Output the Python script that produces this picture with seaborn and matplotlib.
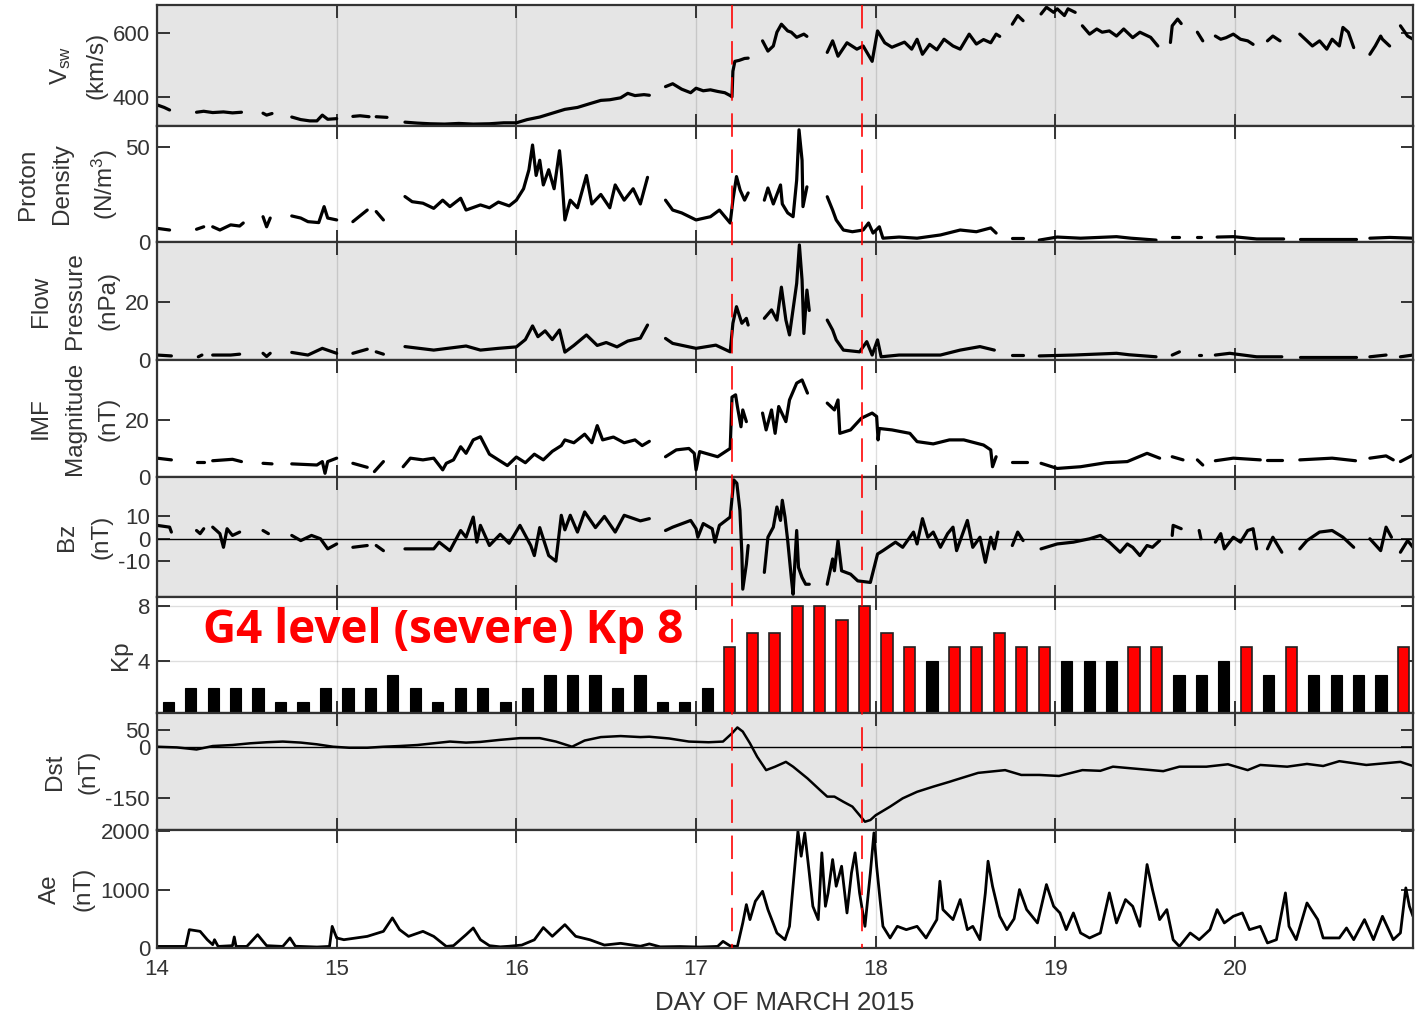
import numpy as np
import pandas as pd
import seaborn as sns
import matplotlib
matplotlib.use("Agg")
import matplotlib.pyplot as plt
from matplotlib.lines import Line2D
from matplotlib.transforms import blended_transform_factory

nan = np.nan

# ---------------- solar wind speed (km/s) ----------------
vsw_t = [14.00, 14.04, 14.07, nan, 14.22, 14.26, 14.31, 14.37, 14.42, 14.47, nan,
         14.59, 14.61, 14.64, nan, 14.75, 14.80, 14.85, 14.89, 14.92, 14.95, 15.00, nan,
         15.09, 15.13, 15.18, nan, 15.22, 15.28, nan,
         15.38, 15.45, 15.52, 15.60, 15.68, 15.76, 15.85, 15.93, 16.00, 16.06, 16.13,
         16.20, 16.27, 16.34, 16.41, 16.47, 16.52, 16.58, 16.62, 16.66, 16.71, 16.74, nan,
         16.83, 16.87, 16.92, 16.97, 17.00, 17.04, 17.08, 17.12, 17.16, 17.19, 17.20,
         17.205, 17.216, 17.24, 17.27, 17.29, nan,
         17.37, 17.40, 17.43, 17.45, 17.475, 17.51, 17.53, 17.56, 17.60, 17.617, nan,
         17.73, 17.76, 17.79, 17.84, 17.895, 17.93, 17.98, 18.01, 18.05, 18.09, 18.16,
         18.20, 18.23, 18.26, 18.30, 18.34, 18.38, 18.43, 18.47, 18.52, 18.56, 18.60,
         18.64, 18.67, 18.69, nan,
         18.76, 18.79, 18.82, nan,
         18.92, 18.95, 18.99, 19.01, 19.05, 19.07, 19.11, nan,
         19.15, 19.19, 19.23, 19.26, 19.30, 19.34, 19.38, 19.43, 19.47, 19.53, 19.57, nan,
         19.64, 19.65, 19.68, 19.70, nan,
         19.79, 19.82, nan,
         19.89, 19.92, 19.95, 19.99, 20.03, 20.07, 20.10, nan,
         20.18, 20.21, 20.25, nan,
         20.36, 20.40, 20.43, 20.47, 20.51, 20.54, 20.58, 20.60, 20.63, 20.66, nan,
         20.75, 20.78, 20.81, 20.82, 20.86, nan,
         20.92, 20.96, 20.99]
vsw_v = [376, 368, 360, nan, 353, 356, 352, 354, 351, 353, nan,
         350, 344, 349, nan, 338, 330, 326, 326, 344, 331, 333, nan,
         340, 342, 339, nan, 339, 337, nan,
         322, 319, 317, 316, 318, 316, 317, 320, 320, 330, 338,
         350, 362, 368, 380, 390, 392, 398, 412, 405, 408, 406, nan,
         433, 442, 425, 414, 428, 420, 423, 418, 414, 405, 401,
         481, 512, 515, 521, 522, nan,
         576, 544, 560, 603, 628, 607, 603, 587, 597, 590, nan,
         540, 576, 528, 570, 550, 560, 512, 607, 570, 556, 572,
         550, 581, 534, 565, 548, 581, 560, 550, 597, 566, 580,
         570, 597, 590, nan,
         628, 655, 639, nan,
         660, 681, 665, 676, 655, 676, 665, nan,
         623, 597, 613, 603, 607, 591, 613, 586, 603, 587, 560, nan,
         571, 623, 644, 630, nan,
         603, 576, nan,
         591, 581, 586, 597, 581, 576, 565, nan,
         576, 591, 576, nan,
         597, 576, 560, 576, 550, 581, 560, 618, 603, 555, nan,
         534, 560, 591, 581, 560, nan,
         623, 591, 581]

# ---------------- proton density (N/cm^3) ----------------
den_t = [14.00, 14.07, nan, 14.22, 14.26, nan, 14.31, 14.35, 14.41, 14.46, 14.48, nan,
         14.59, 14.61, 14.63, nan, 14.75, 14.80, 14.84, 14.90, 14.93, 14.95, 15.00, nan,
         15.09, 15.17, nan, 15.22, 15.26, nan,
         15.38, 15.42, 15.48, 15.54, 15.59, 15.63, 15.69, 15.72, 15.80, 15.85, 15.90, 15.96,
         16.00, 16.04, 16.07, 16.09, 16.11, 16.13, 16.15, 16.18, 16.21, 16.24, 16.25, 16.27,
         16.30, 16.34, 16.39, 16.42, 16.47, 16.52, 16.55, 16.60, 16.65, 16.69, 16.71, 16.73, nan,
         16.83, 16.87, 16.92, 17.00, 17.08, 17.13, 17.19, 17.205, 17.225, 17.245, 17.27, 17.29, nan,
         17.38, 17.40, 17.43, 17.47, 17.48, 17.51, 17.54, 17.56, 17.573, 17.59, 17.595, 17.617, nan,
         17.73, 17.76, 17.78, 17.82, 17.87, 17.93, 17.96, 17.985, 18.02, 18.04, 18.13, 18.23,
         18.36, 18.47, 18.56, 18.64, 18.67, nan,
         18.76, 18.82, nan, 18.91, 19.01, 19.14, 19.34, 19.42, 19.56, nan,
         19.65, 19.69, nan, 19.79, 19.81, nan, 19.90, 19.99, 20.12, 20.27, nan,
         20.36, 20.67, nan, 20.75, 20.86, 20.99]
den_v = [7.2, 6.3, nan, 6.7, 8.0, nan, 8.0, 6.3, 9.0, 8.4, 10.0, nan,
         13.3, 8.0, 12.6, nan, 13.7, 12.6, 10.7, 10.2, 18.6, 12.6, 11.6, nan,
         10.7, 16.8, nan, 16.0, 11.6, nan,
         23.9, 21.2, 20.4, 17.7, 22.0, 18.6, 23.0, 16.8, 19.5, 18.0, 21.0, 19.0,
         22.0, 28.0, 38.0, 51.0, 35.0, 43.0, 30.0, 38.0, 28.0, 48.0, 38.0, 11.6,
         22.0, 18.0, 35.0, 20.0, 25.0, 18.0, 30.0, 22.0, 28.0, 20.0, 27.0, 34.0, nan,
         22.0, 16.8, 15.3, 11.6, 13.3, 16.8, 10.0, 22.0, 34.4, 27.4, 22.0, 25.8, nan,
         22.0, 28.4, 20.0, 30.0, 20.0, 15.3, 13.3, 32.6, 59.0, 43.0, 18.6, 29.0, nan,
         23.8, 16.8, 11.6, 6.3, 5.4, 6.3, 10.0, 4.7, 8.0, 2.0, 2.6, 2.0,
         3.7, 6.3, 5.4, 7.4, 4.7, nan,
         2.0, 2.0, nan, 1.0, 2.6, 2.0, 2.8, 2.0, 1.0, nan,
         2.6, 2.6, nan, 2.5, 2.5, nan, 2.6, 2.8, 1.6, 1.6, nan,
         1.6, 1.6, nan, 2.0, 2.4, 2.0]

# ---------------- flow pressure (nPa) ----------------
pf_t = [14.00, 14.08, nan, 14.23, 14.25, nan, 14.31, 14.41, 14.46, nan,
        14.59, 14.61, 14.63, nan, 14.75, 14.84, 14.92, 15.00, nan,
        15.09, 15.17, nan, 15.22, 15.26, nan,
        15.38, 15.54, 15.72, 15.80, 15.90, 16.00, 16.05, 16.09, 16.12, 16.16, 16.20, 16.24,
        16.27, 16.32, 16.39, 16.45, 16.50, 16.56, 16.62, 16.69, 16.73, nan,
        16.83, 16.87, 17.00, 17.11, 17.19, 17.205, 17.225, 17.255, 17.28, 17.29, nan,
        17.38, 17.42, 17.45, 17.475, 17.50, 17.52, 17.56, 17.575, 17.59, 17.60, 17.617, 17.63, nan,
        17.73, 17.76, 17.78, 17.82, 17.91, 17.95, 17.98, 18.01, 18.03, 18.13, 18.23, 18.36,
        18.47, 18.58, 18.66, nan,
        18.76, 18.82, nan, 18.91, 19.10, 19.34, 19.41, 19.56, nan,
        19.65, 19.69, nan, 19.80, 19.81, nan, 19.89, 19.97, 20.12, 20.26, nan,
        20.36, 20.67, nan, 20.75, 20.84, nan, 20.92, 20.99]
pf_v = [1.7, 1.4, nan, 1.1, 1.7, nan, 1.7, 1.7, 2.0, nan,
        2.3, 1.2, 2.3, nan, 2.6, 1.7, 4.0, 2.3, nan,
        2.3, 3.7, nan, 2.8, 2.0, nan,
        4.6, 3.4, 4.8, 3.4, 4.0, 4.5, 7.0, 11.7, 8.0, 10.0, 7.0, 10.3,
        2.7, 5.0, 8.6, 5.0, 6.0, 4.5, 6.5, 7.5, 12.0, nan,
        7.4, 5.7, 4.0, 5.1, 2.8, 12.6, 18.3, 12.6, 14.3, 12.0, nan,
        14.3, 17.2, 13.7, 25.0, 13.7, 8.6, 26.3, 39.5, 27.4, 9.1, 24.0, 17.0, nan,
        13.7, 10.3, 6.9, 3.4, 2.8, 6.3, 1.7, 6.9, 1.1, 1.7, 1.7, 1.7,
        3.4, 4.6, 3.4, nan,
        1.7, 1.7, nan, 1.4, 1.7, 2.3, 1.8, 1.1, nan,
        1.7, 2.8, nan, 1.7, 1.7, nan, 1.7, 2.3, 1.1, 1.1, nan,
        1.1, 1.1, nan, 1.1, 1.7, nan, 1.1, 1.7]

# ---------------- IMF magnitude (nT) ----------------
imf_t = [14.00, 14.08, nan, 14.22, 14.26, nan, 14.31, 14.42, 14.47, nan,
         14.59, 14.64, nan, 14.75, 14.89, 14.92, 14.935, 14.95, 15.00, nan,
         15.09, 15.17, nan, 15.21, 15.26, nan,
         15.37, 15.41, 15.48, 15.54, 15.59, 15.61, 15.65, 15.69, 15.72, 15.76, 15.80, 15.85,
         15.90, 15.95, 16.00, 16.05, 16.10, 16.15, 16.20, 16.25, 16.27, 16.32, 16.38, 16.42,
         16.45, 16.48, 16.54, 16.60, 16.66, 16.70, 16.74, nan,
         16.83, 16.89, 16.96, 16.99, 17.00, 17.02, 17.12, 17.19, 17.20, 17.22, 17.23, 17.25,
         17.26, 17.28, nan,
         17.37, 17.39, 17.42, 17.44, 17.46, 17.50, 17.52, 17.56, 17.59, 17.62, nan,
         17.73, 17.77, 17.79, 17.80, 17.86, 17.92, 17.98, 18.005, 18.013, 18.02, 18.09, 18.19,
         18.23, 18.32, 18.41, 18.49, 18.60, 18.64, 18.65, 18.67, nan,
         18.76, 18.84, nan, 18.92, 19.01, 19.14, 19.28, 19.40, 19.51, 19.58, nan,
         19.65, 19.71, nan, 19.79, 19.82, nan, 19.89, 19.99, 20.14, nan,
         20.18, 20.26, nan, 20.36, 20.54, 20.67, nan, 20.75, 20.84, 20.88, nan, 20.92, 20.99]
imf_v = [6.6, 6.0, nan, 5.4, 5.4, nan, 5.7, 6.2, 5.4, nan,
         4.8, 4.6, nan, 4.6, 4.2, 5.4, 1.3, 5.4, 6.6, nan,
         4.8, 3.4, nan, 1.9, 5.4, nan,
         3.6, 6.6, 6.0, 6.6, 2.5, 4.8, 6.0, 10.6, 8.3, 13.0, 14.1, 8.0,
         6.0, 4.0, 7.0, 5.0, 8.0, 6.0, 9.0, 11.0, 13.0, 12.0, 15.0, 12.0,
         18.0, 13.0, 14.0, 12.0, 13.0, 11.0, 12.5, nan,
         7.1, 9.5, 10.0, 8.3, 2.5, 8.9, 7.1, 10.0, 28.0, 28.8, 24.7, 17.6,
         23.5, 19.4, nan,
         22.4, 16.5, 23.5, 15.3, 24.7, 19.4, 27.0, 32.9, 34.0, 29.4, nan,
         25.9, 23.5, 27.0, 15.3, 16.5, 20.6, 22.4, 21.2, 13.0, 17.0, 16.5, 15.3,
         12.4, 11.6, 13.0, 13.0, 11.2, 9.5, 3.6, 7.1, nan,
         5.4, 5.4, nan, 4.8, 3.0, 3.6, 5.0, 5.4, 8.3, 6.6, nan,
         7.1, 6.0, nan, 6.0, 4.2, nan, 5.7, 6.6, 6.0, nan,
         6.0, 6.0, nan, 6.0, 6.6, 5.7, nan, 6.6, 7.4, 6.0, nan, 5.4, 7.7]

# ---------------- IMF Bz (nT) ----------------
bz_t = [14.00, 14.07, 14.08, nan, 14.22, 14.24, 14.26, nan,
        14.31, 14.35, 14.37, 14.39, 14.42, 14.46, nan, 14.59, 14.62, nan,
        14.75, 14.80, 14.86, 14.91, 14.95, 15.00, nan, 15.09, 15.17, nan, 15.22, 15.26, nan,
        15.38, 15.54, 15.57, 15.63, 15.69, 15.72, 15.76, 15.78, 15.80, 15.85, 15.91, 15.96,
        16.02, 16.08, 16.10, 16.13, 16.18, 16.22, 16.25, 16.27, 16.30, 16.34, 16.38, 16.44,
        16.49, 16.55, 16.60, 16.69, 16.74, nan,
        16.83, 16.87, 16.97, 17.00, 17.01, 17.04, 17.09, 17.105, 17.13, 17.19, 17.21, 17.227,
        17.244, 17.255, 17.26, 17.28, 17.29, nan,
        17.38, 17.40, 17.43, 17.45, 17.47, 17.48, 17.495, 17.51, 17.53, 17.54, 17.56, 17.57,
        17.59, 17.61, 17.63, nan,
        17.73, 17.76, 17.77, 17.79, 17.81, 17.86, 17.90, 17.97, 18.01, 18.04, 18.11, 18.15,
        18.21, 18.23, 18.26, 18.29, 18.32, 18.36, 18.40, 18.43, 18.45, 18.49, 18.51, 18.54,
        18.58, 18.61, 18.64, 18.66, 18.68, nan,
        18.76, 18.79, 18.82, nan,
        18.92, 19.01, 19.10, 19.19, 19.25, 19.30, 19.36, 19.40, 19.43, 19.47, 19.51, 19.54, 19.58, nan,
        19.65, 19.655, 19.70, nan, 19.80, 19.81, nan,
        19.89, 19.92, 19.94, 19.99, 20.03, 20.07, 20.10, 20.12, nan,
        20.18, 20.21, 20.26, nan,
        20.36, 20.40, 20.47, 20.54, 20.60, 20.66, nan,
        20.75, 20.81, 20.84, 20.87, nan, 20.92, 20.96, 20.99]
bz_v = [6.0, 5.2, 3.0, nan, 3.7, 2.3, 4.5, nan,
        5.2, 2.3, -3.8, 4.5, 1.5, 3.0, nan, 3.7, 2.3, nan,
        1.5, -0.8, 1.5, 0.0, -4.5, -2.3, nan, -3.8, -3.0, nan, -3.0, -5.3, nan,
        -4.5, -4.5, -1.5, -5.3, 3.7, 0.7, 9.7, -1.5, 6.0, -3.0, 2.0, -2.0,
        6.0, -3.0, -7.5, 5.0, -7.5, -10.0, 10.5, 4.0, 10.5, 3.0, 12.0, 5.0,
        10.0, 3.0, 10.5, 8.0, 9.0, nan,
        3.7, 5.2, 8.2, 4.5, 0.7, 6.8, 4.5, -1.5, 6.0, 9.7, 26.3, 24.8,
        12.7, -6.8, -22.5, -11.3, -3.0, nan,
        -15.0, 0.7, 5.2, 14.2, 8.2, 17.2, 9.7, -0.8, -17.3, -24.8, 3.7, -12.8,
        -17.3, -20.3, -20.3, nan,
        -20.3, -9.0, -14.3, -0.8, -14.3, -15.8, -18.8, -19.5, -6.8, -5.3, -1.5, -3.8,
        3.0, -2.3, 9.0, 0.7, 3.0, -3.8, 2.3, 5.2, -5.3, 3.7, 8.2, -3.8,
        0.7, -10.5, 0.7, -4.5, 3.0, nan,
        -3.0, 3.0, -0.8, nan,
        -4.5, -2.3, -1.5, 0.0, 1.5, -1.5, -6.0, -2.3, -3.8, -7.5, -3.0, -3.8, -0.8, nan,
        1.5, 6.0, 4.5, nan, 3.7, 0.0, nan,
        -1.5, 2.3, -4.5, 0.7, -1.5, 3.7, 4.5, -4.5, nan,
        -4.5, 0.7, -6.0, nan,
        -4.5, -0.8, 3.0, 3.7, 0.7, -3.8, nan,
        0.0, -5.3, 5.2, 0.7, nan, -6.0, -0.8, -3.8]

# ---------------- Kp index, 3-hour intervals from 14 March 00 UT ----------------
kp_days = [14, 15, 16, 17, 18, 19, 20]
kp_vals = [1, 2, 2, 2, 2, 1, 1, 2,
           2, 2, 3, 2, 1, 2, 2, 1,
           2, 3, 3, 3, 2, 3, 1, 1,
           2, 5, 6, 6, 8, 8, 7, 8,
           6, 5, 4, 5, 5, 6, 5, 5,
           4, 4, 4, 5, 5, 3, 3, 4,
           5, 3, 5, 3, 3, 3, 3, 5]

# ---------------- Dst (nT) ----------------
dst_t = [14.00, 14.11, 14.22, 14.31, 14.42, 14.52, 14.61, 14.70, 14.80, 14.89, 14.98,
         15.07, 15.17, 15.26, 15.35, 15.45, 15.54, 15.63, 15.72, 15.80, 15.91, 16.02,
         16.13, 16.22, 16.31, 16.38, 16.47, 16.58, 16.69, 16.74, 16.85, 16.96, 17.07,
         17.15, 17.20, 17.23, 17.26, 17.30, 17.34, 17.39, 17.44, 17.50, 17.54, 17.62,
         17.69, 17.73, 17.77, 17.82, 17.87, 17.91, 17.94, 17.97, 18.00, 18.08, 18.15,
         18.23, 18.32, 18.41, 18.44, 18.57, 18.72, 18.81, 18.91, 19.02, 19.15, 19.25,
         19.32, 19.47, 19.60, 19.69, 19.84, 19.96, 20.07, 20.14, 20.29, 20.40, 20.49,
         20.58, 20.73, 20.92, 20.99]
dst_v = [0, -2, -8, 2, 5, 10, 13, 15, 12, 7, 0,
         -3, -3, 0, 2, 5, 10, 15, 12, 14, 20, 25,
         25, 15, 0, 18, 28, 31, 28, 29, 24, 15, 13,
         15, 39, 56, 44, 10, -29, -68, -58, -44, -58, -92,
         -126, -145, -145, -160, -174, -199, -218, -213, -199, -174, -150,
         -131, -116, -102, -97, -76, -68, -82, -82, -85, -68, -70,
         -58, -65, -71, -58, -58, -51, -68, -53, -58, -50, -56,
         -42, -53, -44, -56]

# ---------------- AE (nT) ----------------
ae_t = [14.00, 14.16, 14.18, 14.24, 14.28, 14.31, 14.32, 14.34, 14.42, 14.43, 14.44,
        14.50, 14.56, 14.61, 14.70, 14.74, 14.77, 14.89, 14.96, 14.975, 15.00, 15.04,
        15.17, 15.26, 15.31, 15.35, 15.40, 15.48, 15.54, 15.61, 15.65, 15.72, 15.76,
        15.80, 15.85, 15.91, 15.96, 16.03, 16.10, 16.15, 16.20, 16.27, 16.33, 16.41,
        16.49, 16.58, 16.69, 16.74, 16.80, 16.91, 17.02, 17.12, 17.15, 17.19, 17.23,
        17.26, 17.28, 17.30, 17.33, 17.37, 17.40, 17.45, 17.495, 17.52, 17.55, 17.567,
        17.585, 17.605, 17.63, 17.65, 17.68, 17.70, 17.72, 17.735, 17.76, 17.78, 17.81,
        17.84, 17.865, 17.885, 17.91, 17.94, 17.97, 17.99, 18.005, 18.024, 18.04, 18.08,
        18.12, 18.17, 18.23, 18.28, 18.34, 18.357, 18.374, 18.43, 18.47, 18.51, 18.54,
        18.58, 18.61, 18.625, 18.65, 18.69, 18.73, 18.77, 18.80, 18.84, 18.90, 18.95,
        18.99, 19.025, 19.06, 19.10, 19.14, 19.19, 19.25, 19.30, 19.34, 19.39, 19.43,
        19.47, 19.51, 19.54, 19.58, 19.62, 19.655, 19.69, 19.75, 19.80, 19.86, 19.90,
        19.94, 19.99, 20.04, 20.08, 20.14, 20.18, 20.23, 20.28, 20.30, 20.34, 20.40,
        20.46, 20.49, 20.58, 20.62, 20.66, 20.72, 20.77, 20.82, 20.88, 20.92, 20.95,
        20.97, 20.99]
ae_v = [27, 27, 314, 285, 142, 57, 142, 27, 40, 189, 27,
        27, 228, 40, 27, 172, 30, 17, 27, 370, 172, 142,
        199, 285, 515, 314, 199, 285, 199, 27, 40, 228, 343,
        142, 40, 20, 30, 50, 140, 350, 200, 400, 200, 140,
        50, 80, 30, 70, 20, 25, 17, 27, 114, 35, 27,
        429, 743, 486, 800, 971, 657, 257, 142, 371, 1400, 2000,
        1571, 1971, 1286, 714, 486, 1629, 714, 943, 1514, 1057, 1400,
        600, 1286, 1629, 943, 371, 1286, 1971, 1400, 829, 371, 172,
        371, 314, 371, 172, 486, 1143, 657, 486, 829, 314, 371,
        142, 943, 1486, 1057, 543, 314, 500, 1000, 657, 429, 1086,
        714, 600, 314, 600, 257, 172, 257, 943, 429, 829, 714,
        371, 1429, 1000, 486, 657, 142, 27, 257, 142, 314, 657,
        429, 543, 600, 314, 371, 86, 142, 943, 371, 142, 771,
        486, 172, 172, 343, 142, 486, 142, 543, 142, 257, 1029,
        714, 543]

# ---------------- storm markers ----------------
event_days = [17.2, 17.925]

# ---------------- styling ----------------
sns.set_theme(style="ticks")
plt.rcParams["font.family"] = ["Liberation Sans", "DejaVu Sans"]
plt.rcParams["mathtext.fontset"] = "custom"
plt.rcParams["mathtext.rm"] = "Liberation Sans"
plt.rcParams["mathtext.it"] = "Liberation Sans:italic"
plt.rcParams["axes.unicode_minus"] = False

INK = "#333333"
GRAY_BG = "#e5e5e5"

W, H = 1425, 1018
fig = plt.figure(figsize=(W / 100, H / 100), dpi=100)

panel_edges = [5, 126, 242, 360, 477, 597, 713, 830, 948]
left_px, right_px = 157, 1413
x_lim = (14, 20.99)

axes = []
for i in range(8):
    top, bot = panel_edges[i], panel_edges[i + 1]
    ax = fig.add_axes([left_px / W, 1 - bot / H, (right_px - left_px) / W, (bot - top) / H])
    ax.set_facecolor(GRAY_BG if i % 2 == 0 else "white")
    ax.set_xlim(*x_lim)
    ax.set_xticks(range(14, 21))
    ax.grid(axis="x", color="black", alpha=0.13, lw=1.0)
    ax.tick_params(direction="in", top=True, right=True, length=9, width=1.4,
                   color=INK, labelcolor=INK, labelsize=16, pad=5)
    ax.tick_params(axis="x", labelbottom=(i == 7), pad=8)
    for s in ax.spines.values():
        s.set_color(INK)
        s.set_linewidth(1.6)
    axes.append(ax)


def trace(ax, t, v, lw=2.3):
    df = pd.DataFrame({"t": t, "v": v})
    df["seg"] = df["v"].isna().cumsum()
    df = df.dropna()
    sns.lineplot(data=df, x="t", y="v", units="seg", estimator=None, sort=False,
                 color="black", lw=lw, ax=ax, legend=False)
    ax.set_xlabel("")
    ax.set_ylabel("")


def label(ax, text):
    ax.set_ylabel(text, fontsize=17.5, color=INK, multialignment="center",
                  linespacing=1.7, labelpad=4)


# Vsw
ax = axes[0]
trace(ax, vsw_t, vsw_v)
ax.set_ylim(310, 688)
ax.set_yticks([400, 600])
label(ax, "V$_{\\rm sw}$\n(km/s)")

# Density
ax = axes[1]
trace(ax, den_t, den_v)
ax.set_ylim(0, 61)
ax.set_yticks([0, 50])
label(ax, "Proton\nDensity\n(N/m$^{3}$)")

# Flow pressure
ax = axes[2]
trace(ax, pf_t, pf_v)
ax.set_ylim(0, 40.5)
ax.set_yticks([0, 20])
label(ax, "Flow\nPressure\n(nPa)")

# IMF magnitude
ax = axes[3]
trace(ax, imf_t, imf_v)
ax.set_ylim(0, 41)
ax.set_yticks([0, 20])
label(ax, "IMF\nMagnitude\n(nT)")

# Bz
ax = axes[4]
ax.axhline(0, color="black", lw=1.0, zorder=1)
trace(ax, bz_t, bz_v)
ax.set_ylim(-26, 27.6)
ax.set_yticks([-10, 0, 10])
label(ax, "Bz\n(nT)")

# Kp
ax = axes[5]
kp = np.asarray(kp_vals, dtype=float)
slot = 0.125
kp_centers = np.concatenate([d + slot * (np.arange(8) + 0.5) for d in kp_days])
storm = kp >= 5
ax.bar(kp_centers[~storm], kp[~storm], width=slot / 2, color="black", edgecolor="black",
       lw=0.8, zorder=3)
ax.bar(kp_centers[storm], kp[storm], width=slot / 2, color="#ff0000", edgecolor="#222222",
       lw=1.2, zorder=3)
ax.set_ylim(0.2, 8.65)
ax.set_yticks([4, 8])
ax.grid(axis="y", color="black", alpha=0.13, lw=1.0)
label(ax, "Kp")
ax.text(14.258, 5.31, "G4 level (severe) Kp 8", color="#ff0000", fontsize=33,
        fontweight="bold", family=["Open Sans", "DejaVu Sans"], va="baseline", ha="left",
        zorder=5)

# Dst
ax = axes[6]
ax.axhline(0, color="black", lw=1.0, zorder=1)
trace(ax, dst_t, dst_v, lw=1.8)
ax.set_ylim(-242, 98)
ax.set_yticks([-150, 0, 50])
label(ax, "Dst\n(nT)")

# AE
ax = axes[7]
trace(ax, ae_t, ae_v, lw=2.0)
ax.set_ylim(0, 2020)
ax.set_yticks([0, 1000, 2000])
label(ax, "Ae\n(nT)")
ax.set_xlabel("DAY OF MARCH 2015", fontsize=18.5, color=INK, labelpad=8)

# storm onset / Dst minimum markers spanning every panel
trans = blended_transform_factory(axes[-1].transData, fig.transFigure)
for d in event_days:
    fig.add_artist(Line2D([d, d], [1 - panel_edges[0] / H, 1 - panel_edges[-1] / H],
                          transform=trans, color="#ff0000", lw=1.3, alpha=0.9,
                          dashes=(13, 7), zorder=10))

fig.savefig("out.png", dpi=100)
